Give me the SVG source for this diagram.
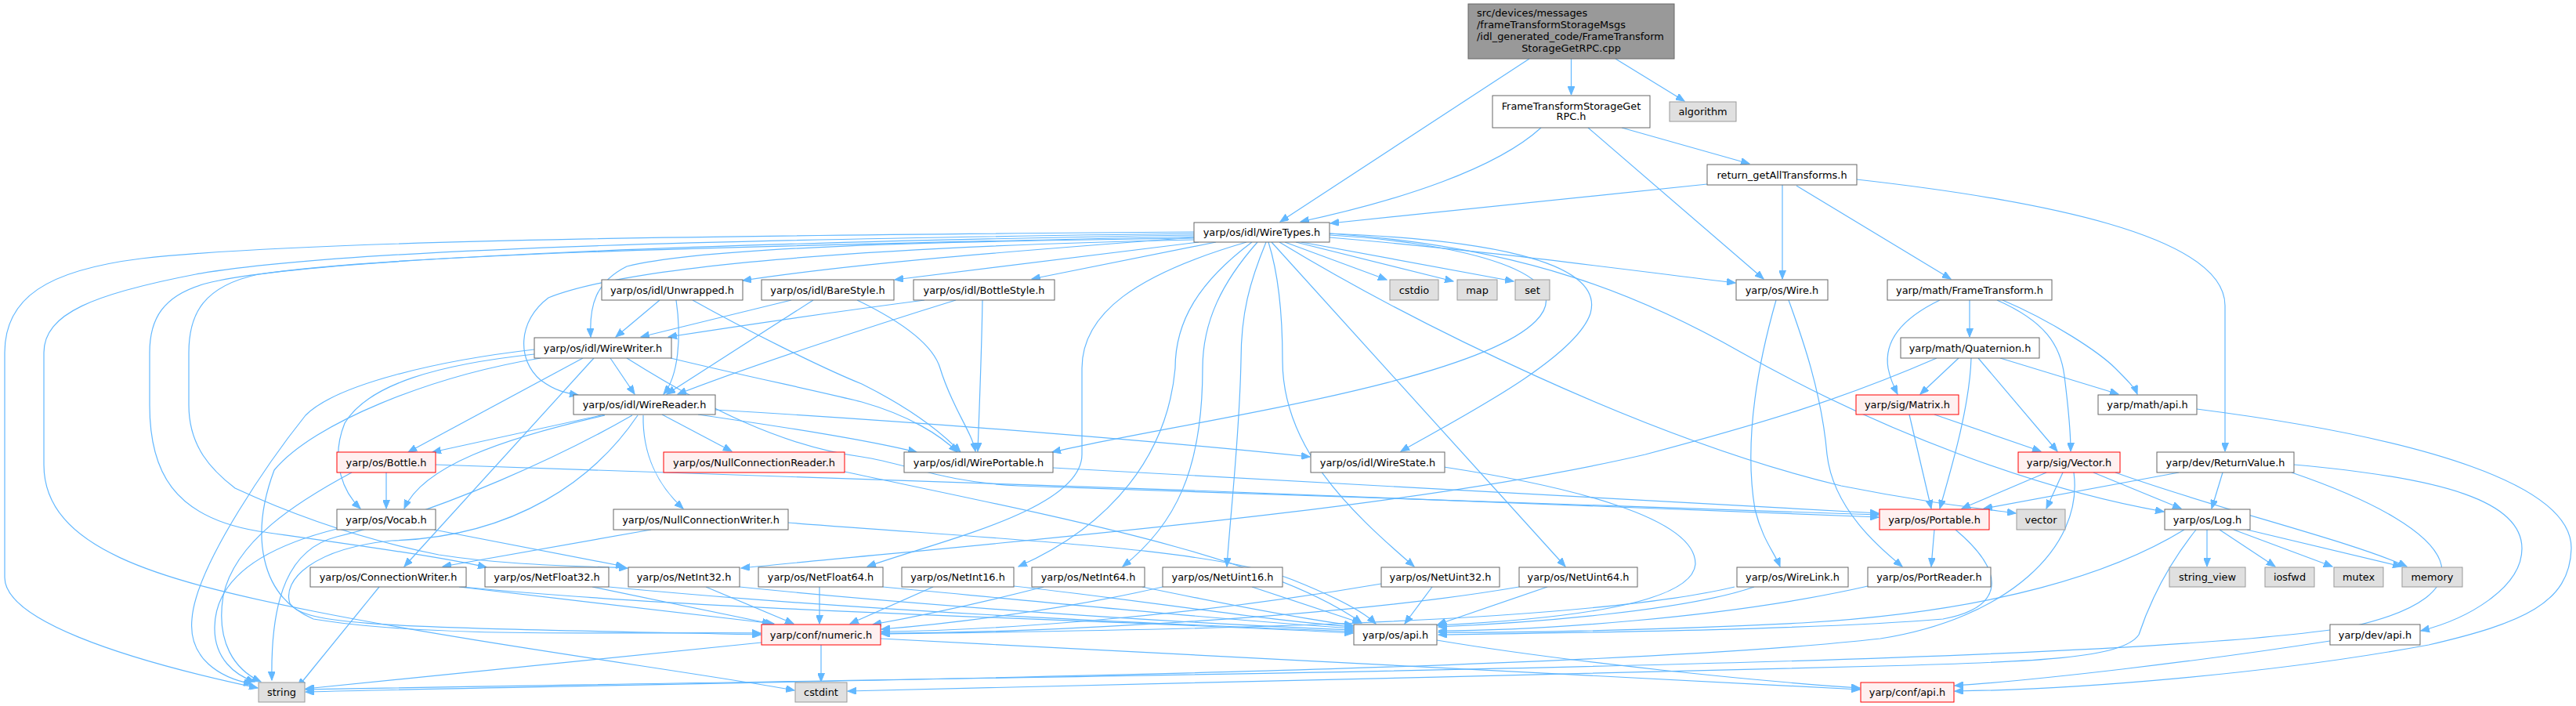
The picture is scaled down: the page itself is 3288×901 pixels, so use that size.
<svg xmlns="http://www.w3.org/2000/svg" width="3288" height="901" viewBox="0 0 3288 901">
<style>
.e{fill:none;stroke:#63b8ff;stroke-width:1.2;marker-end:url(#a)}
.n rect{fill:#ffffff;stroke:#666666;stroke-width:1}
.g rect{fill:#e0e0e0;stroke:#999999;stroke-width:1}
.r rect{fill:#fff0f0;stroke:#ff0000;stroke-width:1}
.m rect{fill:#999999;stroke:#666666;stroke-width:1}
text{font-family:"DejaVu Sans","Liberation Sans",sans-serif;font-size:12.9px;fill:#000000;text-anchor:middle}
.l{text-anchor:start}
</style>
<defs>
<marker id="a" markerWidth="12" markerHeight="9" refX="11" refY="4.5" orient="auto" markerUnits="userSpaceOnUse">
<path d="M0,0 L11,4.5 L0,9 z" fill="#63b8ff" stroke="#63b8ff" stroke-width="1"/>
</marker>
</defs>
<rect width="3288" height="901" fill="#ffffff"/>
<g id="connectors">
<path class="e" d="M1952,75 L1634,283"/>
<path class="e" d="M2005.5,75 L2005.5,121"/>
<path class="e" d="M2062,75 L2150,129"/>
<path class="e" d="M1967,163 C1910,215 1790,255 1660,283"/>
<path class="e" d="M2027,163 L2251,356"/>
<path class="e" d="M2070,163 L2233,209"/>
<path class="e" d="M2179,235 L1698,285"/>
<path class="e" d="M2275,236 L2275,356"/>
<path class="e" d="M2293,237 L2490,356"/>
<path class="e" d="M2370,229 C2600,255 2840,300 2840,390 L2840,576"/>
<path class="e" d="M1524,296 C1000,300 400,305 180,330 C60,345 6,380 6,450 L6,737 C6,790 150,840 329,878"/>
<path class="e" d="M1524,298 C1000,305 450,315 250,350 C120,375 56,400 56,450 L56,593 C56,700 200,740 400,780 C600,820 900,860 1014,881"/>
<path class="e" d="M1524,300 C900,310 400,330 270,360 C205,375 191,410 191,450 L191,517 C191,600 220,660 330,678 C450,695 560,710 621,724"/>
<path class="e" d="M1524,302 C900,315 500,325 330,350 C260,365 241,400 241,450 L241,517 C241,570 270,600 300,623 C380,660 470,690 560,708 C650,722 740,722 801,725"/>
<path class="e" d="M1524,304 C1200,308 900,315 800,340 C760,360 752,390 754,430"/>
<path class="e" d="M1524,306 C1100,315 800,340 700,380 C660,410 660,460 690,485 C710,500 725,502 738,504"/>
<path class="e" d="M1524,303 C1300,320 1100,335 948,358"/>
<path class="e" d="M1530,309 L1142,357"/>
<path class="e" d="M1552,309 L1317,356"/>
<path class="e" d="M1640,309 L1770,357"/>
<path class="e" d="M1654,309 L1855,359"/>
<path class="e" d="M1661,309 L1932,359"/>
<path class="e" d="M1697,303 C1900,320 2080,345 2215,361"/>
<path class="e" d="M1697,298 C1880,305 2050,330 2030,400 C2010,460 1850,540 1788,576"/>
<path class="e" d="M1697,300 C1870,310 2020,350 1960,410 C1880,490 1500,540 1343,577"/>
<path class="e" d="M1697,298 C1950,315 2100,380 2223,450 C2400,550 2600,625 2762,653"/>
<path class="e" d="M1633,309 C1800,410 2100,560 2350,620 C2450,640 2520,648 2573,655"/>
<path class="e" d="M1623,309 L1998,723"/>
<path class="e" d="M1619,309 C1632,350 1637,400 1637,460 C1637,570 1720,650 1805,723"/>
<path class="e" d="M1616,309 C1595,360 1584,400 1584,460 C1582,560 1570,660 1566,723"/>
<path class="e" d="M1605,309 C1560,360 1535,410 1535,470 C1535,600 1500,670 1433,723"/>
<path class="e" d="M1598,309 C1530,360 1500,410 1500,470 C1490,580 1420,670 1300,723"/>
<path class="e" d="M1591,309 C1450,350 1381,400 1381,470 L1381,580 C1381,650 1200,690 1107,723"/>
<path class="e" d="M842,383 L786,430"/>
<path class="e" d="M863,383 C870,430 866,480 847,503"/>
<path class="e" d="M884,383 C950,420 1050,470 1100,490 C1160,520 1200,550 1226,577"/>
<path class="e" d="M1010,383 L818,430"/>
<path class="e" d="M1038,383 L851,503"/>
<path class="e" d="M1094,383 C1150,410 1191,440 1200,470 C1215,520 1240,550 1245,576"/>
<path class="e" d="M1180,383 C1050,400 950,415 853,430"/>
<path class="e" d="M1220,383 C1100,420 950,470 865,503"/>
<path class="e" d="M1254,383 C1253,450 1250,520 1248,576"/>
<path class="e" d="M779,457 L810,503"/>
<path class="e" d="M744,457 L521,577"/>
<path class="e" d="M682,452 C560,465 470,490 440,540 C420,590 440,630 460,649"/>
<path class="e" d="M758,457 L516,723"/>
<path class="e" d="M682,446 C560,460 430,490 390,530 C350,580 250,720 245,790 C240,840 280,865 322,873"/>
<path class="e" d="M690,457 C550,480 400,540 350,600 C320,680 330,760 400,790 C550,815 800,806 971,808"/>
<path class="e" d="M856,457 C950,480 1050,500 1100,513 C1160,530 1200,555 1222,577"/>
<path class="e" d="M800,457 C900,520 1000,570 1100,583 C1160,592 1200,615 1300,620 C1700,635 2100,645 2398,657"/>
<path class="e" d="M772,529 L552,577"/>
<path class="e" d="M772,530 C640,560 540,595 516,649"/>
<path class="e" d="M845,529 L934,576"/>
<path class="e" d="M821,530 C820,580 840,620 872,649"/>
<path class="e" d="M807,530 C720,580 570,650 430,685 C370,700 345,760 347,868"/>
<path class="e" d="M814,530 C760,610 660,685 500,690 C400,700 360,740 370,770 C390,800 500,800 971,810"/>
<path class="e" d="M891,529 C1000,545 1100,560 1170,577"/>
<path class="e" d="M913,523 C1200,540 1500,565 1672,583"/>
<path class="e" d="M493,603 L493,649"/>
<path class="e" d="M449,603 C380,640 300,690 285,760 C275,820 300,855 333,870"/>
<path class="e" d="M556,593 C1000,605 1900,640 2398,660"/>
<path class="e" d="M430,675 C330,700 275,740 274,800 C273,840 300,862 325,870"/>
<path class="e" d="M554,676 L797,723"/>
<path class="e" d="M484,749 L380,877"/>
<path class="e" d="M586,749 L988,796"/>
<path class="e" d="M590,749 C900,780 1400,790 1727,808"/>
<path class="e" d="M831,676 L565,723"/>
<path class="e" d="M1006,667 C1300,690 1550,700 1650,740 C1700,760 1740,780 1756,796"/>
<path class="e" d="M1078,602 C1350,660 1620,710 1738,795"/>
<path class="e" d="M756,749 L984,796"/>
<path class="e" d="M777,749 C1100,780 1450,795 1727,806"/>
<path class="e" d="M901,749 L1013,796"/>
<path class="e" d="M944,749 C1200,775 1500,795 1727,804"/>
<path class="e" d="M1046,749 L1046,796"/>
<path class="e" d="M1127,749 C1350,770 1550,790 1727,802"/>
<path class="e" d="M1191,749 L1085,796"/>
<path class="e" d="M1294,748 C1450,765 1600,790 1727,800"/>
<path class="e" d="M1332,749 C1250,770 1180,785 1114,797"/>
<path class="e" d="M1458,749 C1560,770 1660,790 1727,798"/>
<path class="e" d="M1484,749 C1350,780 1200,797 1125,803"/>
<path class="e" d="M1598,749 L1737,795"/>
<path class="e" d="M1763,745 C1500,790 1250,805 1125,806"/>
<path class="e" d="M1828,749 L1793,796"/>
<path class="e" d="M1939,749 C1700,790 1300,808 1125,808"/>
<path class="e" d="M1975,749 L1835,797"/>
<path class="e" d="M972,820 L390,879"/>
<path class="e" d="M1048,823 L1048,870"/>
<path class="e" d="M1124,815 C1600,840 2100,865 2374,880"/>
<path class="e" d="M1834,817 C2000,845 2250,870 2374,878"/>
<path class="e" d="M1843,596 C2000,620 2165,660 2164,720 C2160,770 2000,790 1835,798"/>
<path class="e" d="M1344,597 C1800,625 2200,645 2398,655"/>
<path class="e" d="M2267,383 C2245,460 2225,560 2240,650 C2250,690 2265,705 2272,723"/>
<path class="e" d="M2283,383 C2300,430 2325,500 2332,580 C2340,650 2400,700 2428,723"/>
<path class="e" d="M2514,383 L2514,430"/>
<path class="e" d="M2476,383 C2420,410 2405,440 2410,470 C2413,485 2418,495 2422,503"/>
<path class="e" d="M2549,383 C2610,410 2630,440 2635,480 C2640,520 2643,550 2643,576"/>
<path class="e" d="M2556,383 C2620,410 2680,450 2700,470 C2715,485 2725,495 2728,503"/>
<path class="e" d="M2500,457 L2451,503"/>
<path class="e" d="M2516,457 C2514,520 2490,600 2476,649"/>
<path class="e" d="M2525,457 L2626,576"/>
<path class="e" d="M2553,457 L2704,503"/>
<path class="e" d="M2472,457 C2350,510 2250,540 2100,580 C1800,650 1300,690 946,725"/>
<path class="e" d="M2437,529 L2465,649"/>
<path class="e" d="M2469,529 L2605,576"/>
<path class="e" d="M2612,603 L2504,649"/>
<path class="e" d="M2633,603 L2612,649"/>
<path class="e" d="M2672,603 L2784,649"/>
<path class="e" d="M2700,603 C2830,650 3000,690 3072,723"/>
<path class="e" d="M2647,603 C2660,700 2560,790 2400,815 C2000,860 900,870 390,883"/>
<path class="e" d="M2781,603 L2532,649"/>
<path class="e" d="M2837,603 L2823,649"/>
<path class="e" d="M2928,593 C3120,610 3219,640 3219,700 C3219,750 3150,790 3090,805"/>
<path class="e" d="M2925,603 C3150,680 3180,760 3000,800 C2700,850 1500,860 390,880"/>
<path class="e" d="M2804,522 C3100,560 3283,620 3282,700 C3280,770 3220,795 3100,823 C2900,860 2650,880 2495,882"/>
<path class="e" d="M2974,818 C2800,845 2600,868 2495,875"/>
<path class="e" d="M2469,676 L2465,723"/>
<path class="e" d="M2496,676 C2560,730 2560,775 2480,790 C2300,805 1950,808 1836,810"/>
<path class="e" d="M2817,676 L2817,723"/>
<path class="e" d="M2833,676 L2904,723"/>
<path class="e" d="M2851,676 L2977,723"/>
<path class="e" d="M2868,676 L3065,723"/>
<path class="e" d="M2788,676 C2700,730 2550,780 2300,795 C2100,805 1900,808 1836,807"/>
<path class="e" d="M2803,676 C2760,730 2740,780 2730,810 C2710,840 2600,845 2400,850 C2000,860 1400,875 1082,882"/>
<path class="e" d="M2384,748 C2200,790 1950,805 1836,805"/>
<path class="e" d="M2239,749 C2150,780 1950,795 1836,800"/>
<path class="e" d="M2214,749 C2000,800 1400,805 1125,809"/>
</g>
<g id="node-main" class="m"><rect x="1874" y="5" width="263" height="70"/>
<text class="l" x="1885" y="21">src/devices/messages</text>
<text class="l" x="1885" y="36">/frameTransformStorageMsgs</text>
<text class="l" x="1885" y="51">/idl_generated_code/FrameTransform</text>
<text x="2005.5" y="65.5">StorageGetRPC.cpp</text></g>
<g id="node-ftsget" class="n"><rect x="1905" y="122" width="201" height="41"/>
<text x="2005.5" y="139.5">FrameTransformStorageGet</text>
<text x="2005.5" y="153">RPC.h</text></g>
<g id="node-algorithm" class="g"><rect x="2131" y="130" width="85" height="25"/><text x="2173.5" y="147">algorithm</text></g>
<g id="node-return" class="n"><rect x="2179" y="210" width="191" height="26"/><text x="2274.5" y="227.5">return_getAllTransforms.h</text></g>
<g id="node-wiretypes" class="n"><rect x="1524" y="284" width="173" height="25"/><text x="1610.5" y="301">yarp/os/idl/WireTypes.h</text></g>
<g id="node-unwrapped" class="n"><rect x="768" y="357" width="180" height="26"/><text x="858" y="374.5">yarp/os/idl/Unwrapped.h</text></g>
<g id="node-barestyle" class="n"><rect x="972" y="357" width="169" height="26"/><text x="1056.5" y="374.5">yarp/os/idl/BareStyle.h</text></g>
<g id="node-bottlestyle" class="n"><rect x="1166" y="357" width="180" height="26"/><text x="1256" y="374.5">yarp/os/idl/BottleStyle.h</text></g>
<g id="node-cstdio" class="g"><rect x="1774" y="357" width="62" height="26"/><text x="1805" y="374.5">cstdio</text></g>
<g id="node-map" class="g"><rect x="1860" y="357" width="51" height="26"/><text x="1885.5" y="374.5">map</text></g>
<g id="node-set" class="g"><rect x="1934" y="357" width="44" height="26"/><text x="1956" y="374.5">set</text></g>
<g id="node-wire" class="n"><rect x="2216" y="357" width="117" height="26"/><text x="2274.5" y="374.5">yarp/os/Wire.h</text></g>
<g id="node-frametransform" class="n"><rect x="2409" y="357" width="210" height="26"/><text x="2514" y="374.5">yarp/math/FrameTransform.h</text></g>
<g id="node-wirewriter" class="n"><rect x="682" y="431" width="175" height="26"/><text x="769.5" y="448.5">yarp/os/idl/WireWriter.h</text></g>
<g id="node-quaternion" class="n"><rect x="2426" y="431" width="177" height="26"/><text x="2514.5" y="448.5">yarp/math/Quaternion.h</text></g>
<g id="node-wirereader" class="n"><rect x="732" y="504" width="181" height="25"/><text x="822.5" y="521">yarp/os/idl/WireReader.h</text></g>
<g id="node-matrix" class="r"><rect x="2369" y="504" width="131" height="25"/><text x="2434.5" y="521">yarp/sig/Matrix.h</text></g>
<g id="node-mathapi" class="n"><rect x="2678" y="504" width="126" height="25"/><text x="2741" y="521">yarp/math/api.h</text></g>
<g id="node-bottle" class="r"><rect x="430" y="577" width="126" height="26"/><text x="493" y="594.5">yarp/os/Bottle.h</text></g>
<g id="node-nullconnreader" class="r"><rect x="847" y="577" width="231" height="26"/><text x="962.5" y="594.5">yarp/os/NullConnectionReader.h</text></g>
<g id="node-wireportable" class="n"><rect x="1154" y="577" width="190" height="26"/><text x="1249" y="594.5">yarp/os/idl/WirePortable.h</text></g>
<g id="node-wirestate" class="n"><rect x="1673" y="577" width="171" height="26"/><text x="1758.5" y="594.5">yarp/os/idl/WireState.h</text></g>
<g id="node-vectorh" class="r"><rect x="2576" y="577" width="130" height="26"/><text x="2641" y="594.5">yarp/sig/Vector.h</text></g>
<g id="node-returnvalue" class="n"><rect x="2753" y="577" width="175" height="26"/><text x="2840.5" y="594.5">yarp/dev/ReturnValue.h</text></g>
<g id="node-vocab" class="n"><rect x="430" y="650" width="126" height="26"/><text x="493" y="667.5">yarp/os/Vocab.h</text></g>
<g id="node-nullconnwriter" class="n"><rect x="783" y="650" width="223" height="26"/><text x="894.5" y="667.5">yarp/os/NullConnectionWriter.h</text></g>
<g id="node-portable" class="r"><rect x="2399" y="650" width="140" height="26"/><text x="2469" y="667.5">yarp/os/Portable.h</text></g>
<g id="node-vector" class="g"><rect x="2574" y="650" width="62" height="26"/><text x="2605" y="667.5">vector</text></g>
<g id="node-log" class="n"><rect x="2763" y="650" width="109" height="26"/><text x="2817.5" y="667.5">yarp/os/Log.h</text></g>
<g id="node-connwriter" class="n"><rect x="396" y="724" width="199" height="25"/><text x="495.5" y="741">yarp/os/ConnectionWriter.h</text></g>
<g id="node-netfloat32" class="n"><rect x="619" y="724" width="158" height="25"/><text x="698" y="741">yarp/os/NetFloat32.h</text></g>
<g id="node-netint32" class="n"><rect x="802" y="724" width="142" height="25"/><text x="873" y="741">yarp/os/NetInt32.h</text></g>
<g id="node-netfloat64" class="n"><rect x="968" y="724" width="159" height="25"/><text x="1047.5" y="741">yarp/os/NetFloat64.h</text></g>
<g id="node-netint16" class="n"><rect x="1151" y="724" width="143" height="25"/><text x="1222.5" y="741">yarp/os/NetInt16.h</text></g>
<g id="node-netint64" class="n"><rect x="1317" y="724" width="144" height="25"/><text x="1389" y="741">yarp/os/NetInt64.h</text></g>
<g id="node-netuint16" class="n"><rect x="1484" y="724" width="153" height="25"/><text x="1560.5" y="741">yarp/os/NetUint16.h</text></g>
<g id="node-netuint32" class="n"><rect x="1763" y="724" width="151" height="25"/><text x="1838.5" y="741">yarp/os/NetUint32.h</text></g>
<g id="node-netuint64" class="n"><rect x="1939" y="724" width="151" height="25"/><text x="2014.5" y="741">yarp/os/NetUint64.h</text></g>
<g id="node-wirelink" class="n"><rect x="2217" y="724" width="142" height="25"/><text x="2288" y="741">yarp/os/WireLink.h</text></g>
<g id="node-portreader" class="n"><rect x="2384" y="724" width="157" height="25"/><text x="2462.5" y="741">yarp/os/PortReader.h</text></g>
<g id="node-stringview" class="g"><rect x="2769" y="724" width="97" height="25"/><text x="2817.5" y="741">string_view</text></g>
<g id="node-iosfwd" class="g"><rect x="2891" y="724" width="63" height="25"/><text x="2922.5" y="741">iosfwd</text></g>
<g id="node-mutex" class="g"><rect x="2979" y="724" width="63" height="25"/><text x="3010.5" y="741">mutex</text></g>
<g id="node-memory" class="g"><rect x="3066" y="724" width="77" height="25"/><text x="3104.5" y="741">memory</text></g>
<g id="node-numeric" class="r"><rect x="972" y="797" width="152" height="26"/><text x="1048" y="814.5">yarp/conf/numeric.h</text></g>
<g id="node-osapi" class="n"><rect x="1728" y="797" width="106" height="26"/><text x="1781" y="814.5">yarp/os/api.h</text></g>
<g id="node-devapi" class="n"><rect x="2974" y="797" width="115" height="26"/><text x="3031.5" y="814.5">yarp/dev/api.h</text></g>
<g id="node-string" class="g"><rect x="330" y="871" width="59" height="25"/><text x="359.5" y="888">string</text></g>
<g id="node-cstdint" class="g"><rect x="1015" y="871" width="66" height="25"/><text x="1048" y="888">cstdint</text></g>
<g id="node-confapi" class="r"><rect x="2375" y="871" width="119" height="25"/><text x="2434.5" y="888">yarp/conf/api.h</text></g>
</svg>
